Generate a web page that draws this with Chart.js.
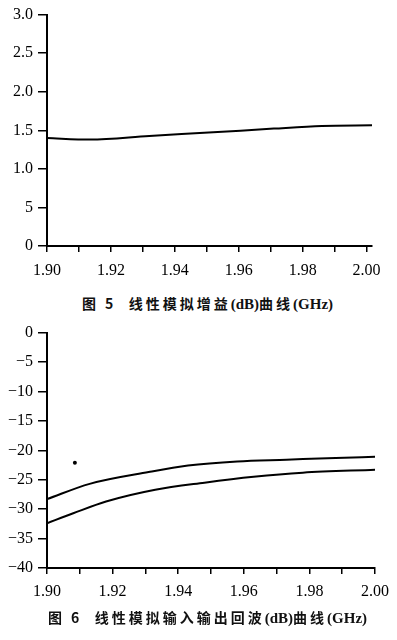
<!DOCTYPE html>
<html>
<head>
<meta charset="utf-8">
<script src="https://cdn.jsdelivr.net/npm/chart.js@4/dist/chart.umd.min.js"></script>
<style>
  body { margin: 0; background: #fff; }
  .box { position: absolute; left: 0; width: 397px; }
  .cap {
    position: absolute; left: 9px; width: 397px; text-align: center;
    font-family: "Noto Sans CJK SC", sans-serif; font-size: 14px; font-weight: bold;
    color: #111; white-space: pre;
  }
  .cap .z { letter-spacing: 3px; }
  .cap .l { font-family: "Liberation Serif", serif; font-size: 15px; letter-spacing: 0; }
</style>
</head>
<body>
<div class="box" style="top:0;height:290px"><canvas id="gainChart"></canvas></div>
<div class="cap" style="top:293px"><span class="z">图 5  线性模拟增益</span><span class="l">(dB)</span><span class="z">曲线</span><span class="l">(GHz)</span></div>
<div class="box" style="top:318px;height:290px"><canvas id="rlChart"></canvas></div>
<div class="cap" style="top:607px"><span class="z">图 6  线性模拟输入输出回波</span><span class="l">(dB)</span><span class="z">曲线</span><span class="l">(GHz)</span></div>
<script>
// 频率刻度 (GHz)
const freqTicks = [1.90, 1.91, 1.92, 1.93, 1.94, 1.95, 1.96, 1.97, 1.98, 1.99, 2.00];
const freqLabels = ["1.90", "", "1.92", "", "1.94", "", "1.96", "", "1.98", "", "2.00"];

// 图5 增益
const gainTicks = [0, 0.5, 1.0, 1.5, 2.0, 2.5, 3.0];
const gainTickLabels = ["0", "5", "1.0", "1.5", "2.0", "2.5", "3.0"];
const gainFreq = [1.90, 1.9135, 1.932, 1.952, 1.971, 1.986, 2.0017];
const gain = [1.40, 1.38, 1.427, 1.474, 1.522, 1.555, 1.564];

// 图6 回波
const rlTicks = [-40, -35, -30, -25, -20, -15, -10, -5, 0];
const rlFreqA = [1.90, 1.913, 1.931, 1.943, 1.958, 1.973, 1.988, 2.00];
const rlA = [-28.3, -25.7, -23.7, -22.6, -21.9, -21.6, -21.3, -21.1];
const rlFreqB = [1.90, 1.908, 1.918, 1.933, 1.948, 1.963, 1.978, 2.00];
const rlB = [-32.4, -30.7, -28.7, -26.7, -25.5, -24.5, -23.8, -23.3];
const dotFreq = [1.9085];
const dotVal = [-22.1];

const pts = (xs, ys) => xs.map((x, i) => ({ x, y: ys[i] }));
const tickFont = { family: "'Liberation Serif', serif", size: 16 };

function lineSet(xs, ys) {
  return {
    data: pts(xs, ys), showLine: true, borderColor: "#000", borderWidth: 2,
    pointRadius: 0, cubicInterpolationMode: "monotone", fill: false
  };
}

function xScale(max, h, pad) {
  return {
    type: "linear", min: 1.90, max,
    afterBuildTicks: s => { s.ticks = freqTicks.map(v => ({ value: v })); },
    afterFit: s => { s.height = h; },
    ticks: {
      color: "#000", font: tickFont, padding: pad, autoSkip: false, maxRotation: 0,
      callback: (v, i) => freqLabels[i]
    },
    grid: { drawOnChartArea: false, tickLength: 6, color: "#000", lineWidth: 1.5 },
    border: { color: "#000", width: 2 }
  };
}

function yScale(min, max, ticks, labels, w) {
  return {
    type: "linear", min, max,
    afterBuildTicks: s => { s.ticks = ticks.map(v => ({ value: v })); },
    afterFit: s => { s.width = w; },
    ticks: {
      color: "#000", font: tickFont, padding: 5, autoSkip: false,
      callback: (v, i) => labels[i]
    },
    grid: { drawOnChartArea: false, tickLength: 9, color: "#000", lineWidth: 1.5 },
    border: { color: "#000", width: 2 }
  };
}

const common = {
  responsive: true, maintainAspectRatio: false, animation: false,
  plugins: { legend: { display: false }, tooltip: { enabled: false } }
};

new Chart(document.getElementById("gainChart"), {
  type: "scatter",
  data: { datasets: [lineSet(gainFreq, gain)] },
  options: {
    ...common,
    layout: { padding: { top: 12, right: 25 } },
    scales: {
      x: xScale(2.0017, 44, 9),
      y: yScale(0, 3, gainTicks, gainTickLabels, 47)
    }
  }
});

new Chart(document.getElementById("rlChart"), {
  type: "scatter",
  data: {
    datasets: [
      lineSet(rlFreqA, rlA),
      lineSet(rlFreqB, rlB),
      { data: pts(dotFreq, dotVal), pointRadius: 2, backgroundColor: "#000", borderWidth: 0 }
    ]
  },
  options: {
    ...common,
    layout: { padding: { top: 13, right: 19 } },
    scales: {
      x: xScale(2.00, 40, 8),
      y: yScale(-40, 0, rlTicks, rlTicks.map(v => v === 0 ? "0" : "\u2212" + Math.abs(v)), 47)
    }
  }
});
</script>
</body>
</html>
